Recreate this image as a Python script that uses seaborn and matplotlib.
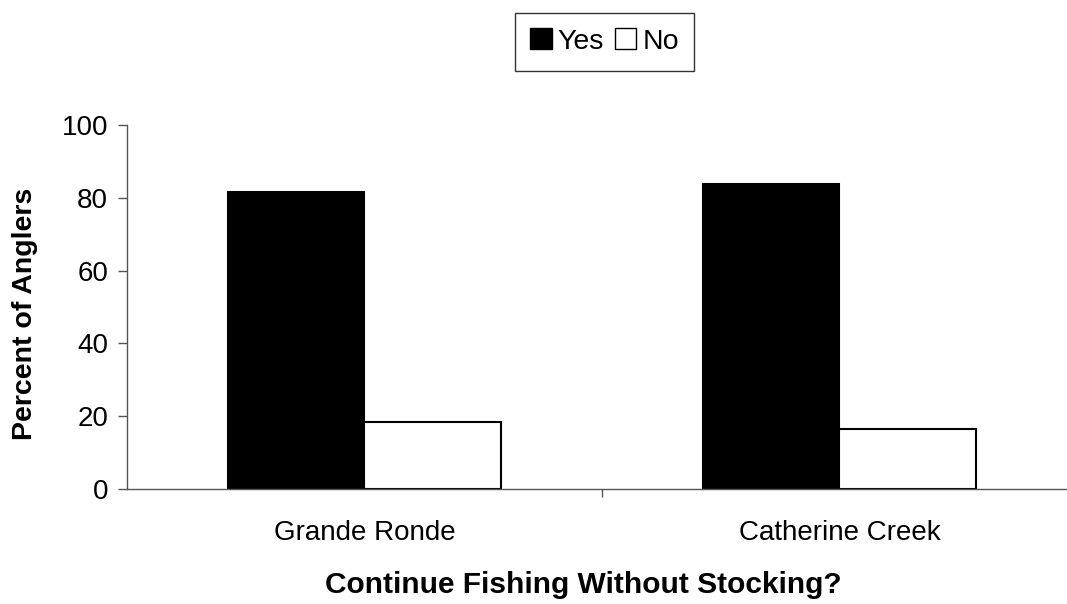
import pandas as pd
import matplotlib.pyplot as plt
import seaborn as sns
from matplotlib.patches import Patch

# =========================
# Data
# =========================

sites = ["Grande Ronde", "Catherine Creek"]
answers = ["Yes", "No"]
yes_pct = [81.7, 83.9]
no_pct = [18.5, 16.6]

df = pd.DataFrame({
    "Site": sites * 2,
    "Answer": ["Yes"] * len(sites) + ["No"] * len(sites),
    "Percent": yes_pct + no_pct
})

# =========================
# Style
# =========================

sns.set_style("white")
plt.rcParams["font.family"] = ["Liberation Sans", "DejaVu Sans"]
plt.rcParams["text.color"] = "black"
plt.rcParams["axes.labelcolor"] = "black"

fig = plt.figure(figsize=(10.67, 6.04), dpi=100)
ax = fig.add_axes([0.119, 0.1904, 0.881, 0.6026])

sns.barplot(
    data=df,
    x="Site",
    y="Percent",
    hue="Answer",
    hue_order=answers,
    palette={"Yes": "black", "No": "white"},
    edgecolor="black",
    linewidth=1.5,
    width=0.575,
    legend=False,
    ax=ax
)

# =========================
# Axes
# =========================

ax.set_ylim(0, 100)
ax.set_xlim(-0.5, 1.479)
ax.set_yticks([0, 20, 40, 60, 80, 100])

for side in ["top", "right"]:
    ax.spines[side].set_visible(False)
for side in ["left", "bottom"]:
    ax.spines[side].set_color("#555555")
    ax.spines[side].set_linewidth(1.0)

ax.tick_params(axis="y", direction="out", length=6.5, width=1,
               color="#555555", labelcolor="black",
               labelsize=20, pad=7, left=True)
ax.tick_params(axis="x", which="major", length=0, labelcolor="black",
               labelsize=20, pad=22)
ax.set_xticks([0.5], minor=True)
ax.tick_params(axis="x", which="minor", direction="out", length=6,
               width=1, color="#555555", bottom=True)

ax.set_xlabel("Continue Fishing Without Stocking?",
              fontsize=21.5, fontweight="bold", labelpad=18)
ax.set_ylabel("Percent of Anglers",
              fontsize=20.5, fontweight="bold", labelpad=17)

# label positions a bit off-centre like the original
ax.xaxis.label.set_x(0.485)
ax.yaxis.label.set_y(0.481)

# =========================
# Legend
# =========================

handles = [
    Patch(facecolor="black", edgecolor="black", label="Yes"),
    Patch(facecolor="white", edgecolor="black", label="No")
]

fig.legend(
    handles=handles,
    loc="center",
    bbox_to_anchor=(0.5666, 0.931),
    ncol=2,
    fontsize=20.5,
    frameon=True,
    fancybox=False,
    edgecolor="black",
    handlelength=0.75,
    handleheight=0.75,
    handletextpad=0.2,
    columnspacing=0.4,
    borderpad=0.55,
    borderaxespad=0
)

fig.savefig("out.png", dpi=100)
